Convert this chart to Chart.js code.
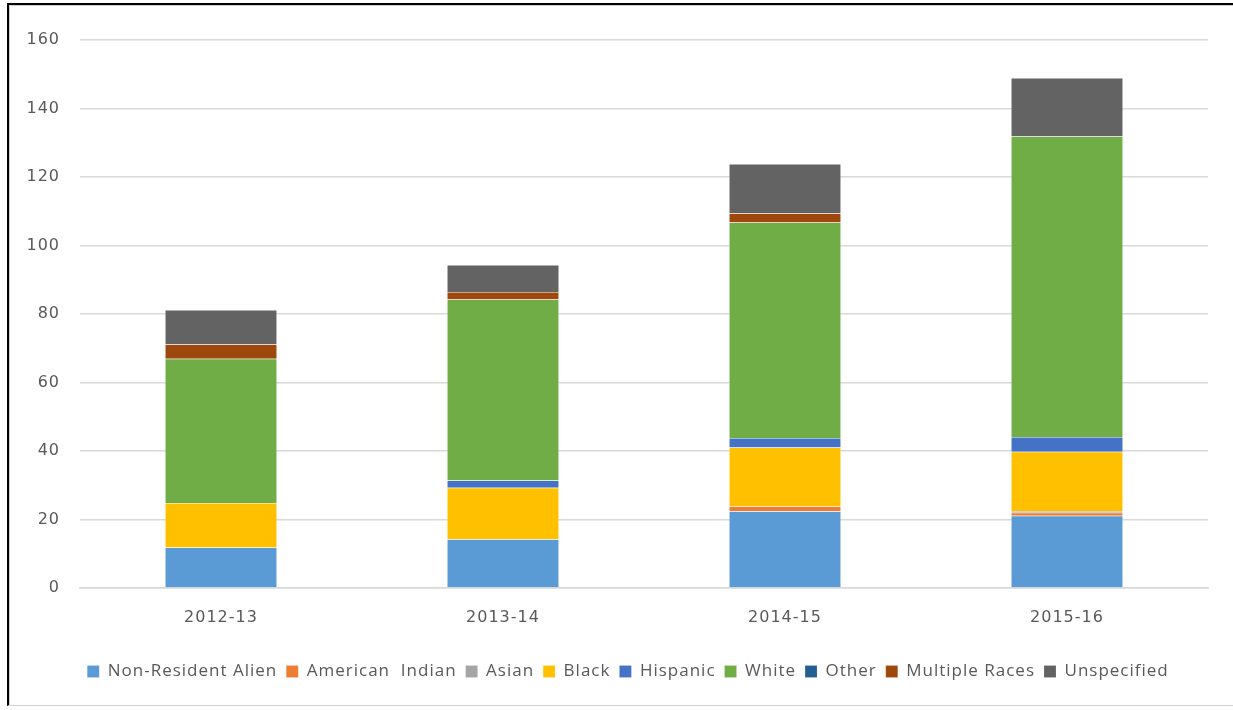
<!DOCTYPE html>
<html>
<head>
<meta charset="utf-8">
<script src="https://cdn.jsdelivr.net/npm/chart.js@4/dist/chart.umd.min.js"></script>
<style>
  html, body { margin: 0; padding: 0; background: #fff; }
  #frame {
    position: absolute; left: 7px; top: 3px; width: 1230px; height: 703px;
    border-left: 2px solid #000; border-top: 2px solid #000;
    border-bottom: 1px solid #d4d4d4; box-sizing: border-box;
    box-shadow: inset 1px 1px 0 #d0d0d0;
  }
  #wrap { position: absolute; left: 0; top: 0; width: 1233px; height: 710px; }
</style>
</head>
<body>
<div id="frame"></div>
<div id="wrap"><canvas id="c" width="1233" height="710"></canvas></div>
<script>
// Academic years on the horizontal axis
const years = ['2012-13', '2013-14', '2014-15', '2015-16'];

// Headcount per group, stacked bottom to top
const nonResidentAlien = [11.8, 14.2, 22.4, 21.1];
const americanIndian   = [0, 0, 1.5, 0.9];
const asian            = [0, 0, 0, 0.5];
const black            = [13, 15.1, 17.1, 17.3];
const hispanic         = [0, 2.1, 2.8, 4.3];
const white            = [42.1, 52.8, 62.9, 87.7];
const other            = [0, 0, 0, 0];
const multipleRaces    = [4.2, 2.2, 2.7, 0];
const unspecified      = [10.1, 7.9, 14.4, 17.1];

const yTicks = [0, 20, 40, 60, 80, 100, 120, 140, 160];

const series = [
  ['Non-Resident Alien', nonResidentAlien, '#5B9BD5'],
  ['American  Indian',   americanIndian,   '#ED7D31'],
  ['Asian',              asian,            '#A5A5A5'],
  ['Black',              black,            '#FFC000'],
  ['Hispanic',           hispanic,         '#4472C4'],
  ['White',              white,            '#70AD47'],
  ['Other',              other,            '#255E91'],
  ['Multiple Races',     multipleRaces,    '#9E480E'],
  ['Unspecified',        unspecified,      '#636363']
];

const tickFont = "'DejaVu Sans', sans-serif";
const legendFont = "'Open Sans', sans-serif";

// slightly open letter spacing for all chart text
const spacing = {
  id: 'spacing',
  beforeLayout(chart) { chart.ctx.letterSpacing = '1px'; },
  beforeDraw(chart) { chart.ctx.letterSpacing = '1px'; }
};

// nudge the legend row a little to the right of the padded centre
const legendShift = {
  id: 'legendShift',
  afterLayout(chart) {
    const lg = chart.legend;
    if (lg) { lg.left += 14; lg.right += 14; }
  }
};

new Chart(document.getElementById('c'), {
  type: 'bar',
  plugins: [spacing, legendShift],
  data: {
    labels: years,
    datasets: series.map(([label, data, color]) => ({
      label, data,
      backgroundColor: color,
      borderColor: 'rgba(255,255,255,0.3)',
      borderWidth: 0.5,
      categoryPercentage: 1,
      barPercentage: 0.397
    }))
  },
  options: {
    responsive: false,
    animation: false,
    layout: { padding: { left: 20, right: 25, top: 40, bottom: 20 } },
    plugins: {
      tooltip: { enabled: false },
      legend: {
        position: 'bottom',
        labels: {
          boxWidth: 12, boxHeight: 12, padding: 9,
          color: '#595959',
          font: { family: legendFont, size: 17 }
        }
      }
    },
    scales: {
      x: {
        stacked: true,
        grid: { display: false, drawTicks: false },
        border: { color: '#d9d9d9', width: 1.5 },
        ticks: { color: '#595959', font: { family: tickFont, size: 16 }, padding: 20 },
        afterFit: s => { s.height = 66; }
      },
      y: {
        stacked: true,
        min: 0, max: 160,
        afterBuildTicks: s => { s.ticks = yTicks.map(v => ({ value: v })); },
        grid: { color: '#d9d9d9', lineWidth: 1.5, drawTicks: false },
        border: { display: false },
        ticks: { color: '#595959', font: { family: tickFont, size: 16 }, padding: 20 },
        afterFit: s => { s.width = 60; }
      }
    }
  }
});
</script>
</body>
</html>
